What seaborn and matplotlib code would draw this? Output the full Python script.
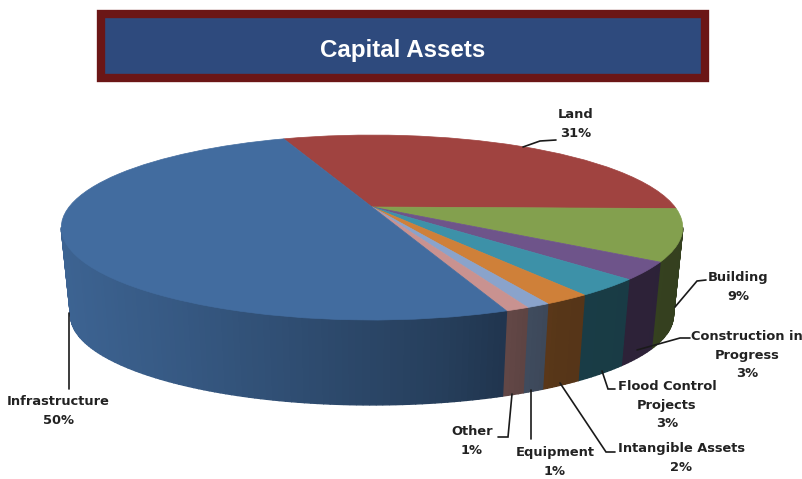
import numpy as np
import matplotlib
matplotlib.use("Agg")
import matplotlib.pyplot as plt
from matplotlib.patches import Rectangle
from matplotlib.transforms import Transform
import seaborn as sns

# slices in clockwise order, starting from the Land slice
categories = ["Land", "Building", "Construction in\nProgress", "Flood Control\nProjects",
              "Intangible Assets", "Equipment", "Other", "Infrastructure"]
shares = [31, 9, 3, 3, 2, 1, 1, 50]
slice_colors = ["#a04340", "#83a04e", "#6e548a", "#3d91a8", "#cf8039", "#8aa3cb", "#c99290", "#426c9f"]

START_ANGLE = 110.6

# the perspective of the 3D disc, in pixels of the picture
CX, CY = 372, 207
RX, RY = 303, 87.9
K = 0.2216
DEPTH = 88.4
SHRINK = 0.03


def project(u, v, depth=0.0):
    w = 1 + K * v
    s = 1 - SHRINK * depth
    return CX + RX * s * u / w, CY - RY * s * v / w + DEPTH * depth


class Perspective(Transform):
    input_dims = 2
    output_dims = 2
    is_separable = False
    has_inverse = False

    def transform_non_affine(self, values):
        x, y = project(values[:, 0], values[:, 1])
        return np.column_stack([x, y])


def shade(color, x):
    # side of the pie gets darker towards the right
    f = np.interp(x, [60, 180, 440, 560, 683], [0.92, 0.82, 0.58, 0.42, 0.40])
    return tuple(c * f for c in matplotlib.colors.to_rgb(color))


sns.set_theme(style="white")
palette = sns.color_palette(slice_colors)

fig = plt.figure(figsize=(8.02, 4.79), dpi=100)
ax = fig.add_axes([0, 0, 1, 1])

# side wall, one thin strip per step of angle
front_start = -np.degrees(np.arcsin(K))
front_end = -180 - front_start
angle = START_ANGLE
strips = []
for share, color in zip(shares, palette):
    next_angle = angle - share * 3.6
    a1 = min(angle, front_start)
    a2 = max(next_angle, front_end)
    if a1 > a2:
        edges = np.linspace(a1, a2, int((a1 - a2) / 1.0) + 2)
        for t1, t2 in zip(edges[:-1], edges[1:]):
            strips.append((t1, t2, color))
    angle = next_angle

strips.sort(key=lambda s: np.sin(np.radians(s[0])), reverse=True)
for t1, t2, color in strips:
    t = np.radians([t1, t2])
    x_top, y_top = project(np.cos(t), np.sin(t))
    x_bot, y_bot = project(np.cos(t), np.sin(t), 1.0)
    c = shade(color, x_top.mean())
    ax.fill(np.r_[x_top, x_bot[::-1]], np.r_[y_top, y_bot[::-1]], color=c, lw=1.0, zorder=1)

# top of the pie
wedges, _ = ax.pie(shares, colors=palette, startangle=START_ANGLE, counterclock=False)
persp = Perspective() + ax.transData
for w, color in zip(wedges, palette):
    w.set_transform(persp)
    w.set_zorder(2)
    w.set_clip_on(False)
    w.set_edgecolor(color)
    w.set_linewidth(0.5)

ax.set_aspect("auto")
ax.set_xlim(0, 802)
ax.set_ylim(479, 0)
ax.axis("off")

# title box
ax.add_patch(Rectangle((101, 14), 604, 64, facecolor="#2e4a7d", edgecolor="#6b1616", lw=6, zorder=3))
ax.text(402.5, 50, "Capital Assets", color="white", fontsize=17.4, fontweight="bold",
        family="Liberation Sans", ha="center", va="center", zorder=4)

# labels with their leader lines
label_pos = {
    "Land": (576, 124),
    "Building": (738, 287),
    "Construction in\nProgress": (747, 355),
    "Flood Control\nProjects": (667, 405),
    "Intangible Assets": (681, 458),
    "Equipment": (555, 462),
    "Other": (472, 441),
    "Infrastructure": (58, 411),
}
leaders = {
    "Land": [(523, 147), (540, 141), (556, 140)],
    "Building": [(675, 307), (697, 281), (706, 280)],
    "Construction in\nProgress": [(637, 350), (680, 338), (690, 338)],
    "Flood Control\nProjects": [(602, 371), (608, 389), (615, 389)],
    "Intangible Assets": [(560, 383), (606, 452), (615, 452)],
    "Equipment": [(531, 390), (531, 439)],
    "Other": [(512, 394), (508, 437), (498, 437)],
    "Infrastructure": [(69, 313), (69, 389)],
}
for name, share in zip(categories, shares):
    x, y = label_pos[name]
    ax.text(x, y, f"{name}\n{share}%", ha="center", va="center", fontsize=9.4, fontweight="bold",
            color="#222222", linespacing=1.55, family="DejaVu Sans", zorder=5, clip_on=False)
    px, py = zip(*leaders[name])
    ax.plot(px, py, color="#1a1a1a", lw=1.2, zorder=5, solid_joinstyle="miter")

fig.savefig("out.png", dpi=100)
